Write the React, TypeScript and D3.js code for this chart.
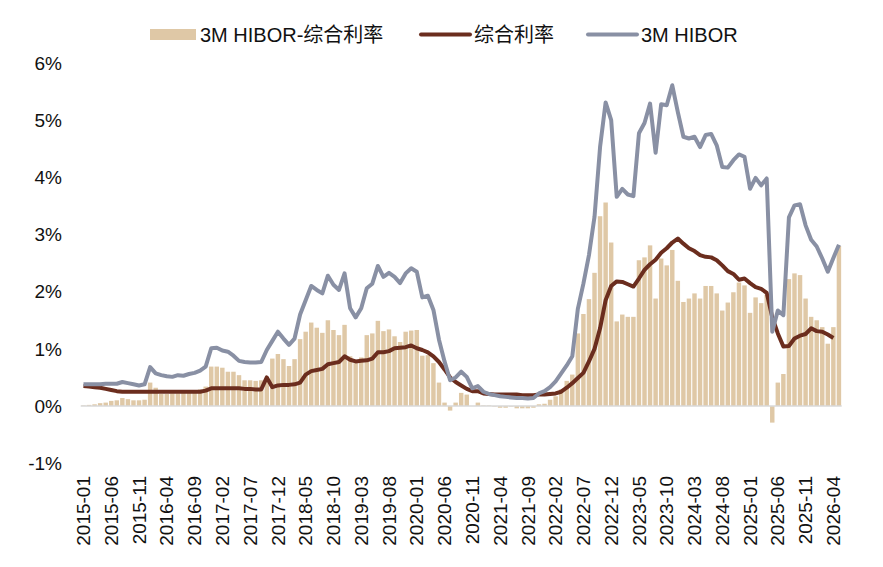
import React from "react";
import * as d3 from "d3";

const width = 883;
const height = 567;

// 月份: 2015-01 .. 2026-05
const months = d3.timeMonth.range(new Date(2015, 0, 1), new Date(2026, 5, 1));
const labels = months.map((d) => d3.timeFormat("%Y-%m")(d));

// 3M HIBOR (%)
const hibor = [
  0.38, 0.38, 0.38, 0.38, 0.39, 0.39, 0.39, 0.42, 0.40, 0.38, 0.36, 0.38,
  0.68, 0.57, 0.54, 0.52, 0.51, 0.54, 0.53, 0.56, 0.58, 0.62, 0.69, 1.01,
  1.02, 0.97, 0.95, 0.88, 0.79, 0.77, 0.76, 0.76, 0.77, 0.98, 1.14, 1.30,
  1.18, 1.07, 1.18, 1.60, 1.85, 2.10, 2.03, 1.97, 2.28, 2.12, 2.03, 2.32,
  1.71, 1.55, 1.71, 2.06, 2.14, 2.45, 2.26, 2.33, 2.26, 2.15, 2.32, 2.41,
  2.35, 1.90, 1.93, 1.68, 1.16, 0.78, 0.45, 0.50, 0.60, 0.51, 0.31, 0.35,
  0.25, 0.21, 0.19, 0.17, 0.16, 0.15, 0.14, 0.14, 0.13, 0.14, 0.22, 0.26,
  0.33, 0.43, 0.57, 0.71, 0.87, 1.70, 2.14, 2.64, 3.31, 4.53, 5.31, 5.00,
  3.66, 3.80, 3.70, 3.67, 4.77, 4.95, 5.29, 4.43, 5.28, 5.26, 5.61, 5.14,
  4.71, 4.68, 4.71, 4.53, 4.74, 4.76, 4.56, 4.18, 4.17, 4.30, 4.40, 4.36,
  3.80, 3.99, 3.86, 3.98, 1.30, 1.67, 1.59, 3.30, 3.51, 3.53, 3.16, 2.91,
  2.79, 2.58, 2.35, 2.59, 2.82,
];

// 综合利率 (%), ends 2026-04
const composite = [
  0.35, 0.34, 0.33, 0.32, 0.30, 0.28, 0.26, 0.25, 0.25, 0.25, 0.25, 0.25,
  0.25, 0.25, 0.25, 0.25, 0.25, 0.25, 0.25, 0.25, 0.25, 0.25, 0.27, 0.31,
  0.31, 0.31, 0.31, 0.31, 0.31, 0.30, 0.30, 0.29, 0.29, 0.50, 0.33, 0.36,
  0.37, 0.37, 0.38, 0.41, 0.55, 0.61, 0.63, 0.65, 0.73, 0.75, 0.77, 0.87,
  0.81, 0.78, 0.79, 0.80, 0.83, 0.94, 0.94, 0.96, 1.01, 1.02, 1.03, 1.06,
  1.01, 0.98, 0.94, 0.87, 0.77, 0.64, 0.50, 0.42, 0.36, 0.30, 0.26, 0.26,
  0.22, 0.21, 0.20, 0.20, 0.20, 0.20, 0.20, 0.19, 0.19, 0.19, 0.20, 0.20,
  0.21, 0.22, 0.25, 0.32, 0.40, 0.49, 0.58, 0.78, 1.00, 1.36, 1.85, 2.10,
  2.18, 2.17, 2.13, 2.09, 2.23, 2.38, 2.48, 2.56, 2.68, 2.76, 2.86, 2.93,
  2.84, 2.76, 2.71, 2.64, 2.61, 2.60, 2.55, 2.46, 2.36, 2.31, 2.21, 2.23,
  2.15, 2.08, 2.05, 1.98, 1.55, 1.27, 1.04, 1.05, 1.18, 1.23, 1.26, 1.36,
  1.31, 1.30, 1.25, 1.19,
];

// 3M HIBOR-综合利率 (%)
const spread = [
  0.01, 0.02, 0.03, 0.05, 0.06, 0.09, 0.10, 0.14, 0.12, 0.10, 0.10, 0.11,
  0.41, 0.32, 0.21, 0.21, 0.22, 0.22, 0.23, 0.24, 0.26, 0.29, 0.34, 0.69,
  0.69, 0.67, 0.60, 0.60, 0.54, 0.45, 0.45, 0.44, 0.45, 0.45, 0.83, 0.91,
  0.82, 0.70, 0.82, 1.17, 1.30, 1.46, 1.37, 1.28, 1.50, 1.33, 1.24, 1.42,
  0.87, 0.75, 0.85, 1.24, 1.27, 1.49, 1.31, 1.34, 1.22, 1.12, 1.30, 1.32,
  1.33, 0.88, 0.89, 0.75, 0.41, 0.06, -0.08, 0.06, 0.23, 0.20, 0.0, 0.06,
  0.01, 0.01, -0.01, -0.03, -0.03, -0.01, -0.04, -0.04, -0.04, -0.03, 0.03, 0.04,
  0.11, 0.17, 0.29, 0.44, 0.55, 1.27, 1.61, 1.87, 2.33, 3.32, 3.56, 2.86,
  1.48, 1.60, 1.56, 1.56, 2.55, 2.60, 2.81, 1.88, 2.58, 2.46, 2.73, 2.19,
  1.82, 1.88, 1.97, 1.88, 2.10, 2.10, 1.97, 1.67, 1.81, 1.99, 2.16, 2.11,
  1.63, 1.90, 1.80, 1.95, -0.29, 0.41, 0.56, 2.22, 2.32, 2.29, 1.88, 1.56,
  1.50, 1.38, 1.09, 1.38, 2.80,
];

const yTicks = [-1, 0, 1, 2, 3, 4, 5, 6];

const barColor = "#dfc8a6";
const compColor = "#6b2d1e";
const hiborColor = "#8990a4";
const latin = "'Liberation Sans', Arial, sans-serif";
const cjk = "'Liberation Sans', 'Noto Sans CJK SC', sans-serif";

const x = d3
  .scaleBand<string>()
  .domain(labels)
  .range([80.7, 841.7])
  .paddingInner(0.2)
  .paddingOuter(0.1);
const y = d3.scaleLinear().domain([-1, 6]).range([463.2, 63]);
const cx = (i: number) => (x(labels[i]) as number) + x.bandwidth() / 2;

const line = d3
  .line<number>()
  .x((_, i) => cx(i))
  .y((d) => y(d));

const App = () => {
  return (
    <div style={{ position: "absolute", left: 0, top: 0 }}>
      <svg width={width} height={height} style={{ display: "block", background: "#fff" }}>
        {/* legend */}
        <g fontFamily={cjk} fontSize={20} fill="#111">
          <rect x={150} y={29} width={46} height={11} fill={barColor} />
          <text x={200} y={42}>3M HIBOR-综合利率</text>
          <line x1={421} x2={470} y1={34.5} y2={34.5} stroke={compColor} strokeWidth={4} strokeLinecap="round" />
          <text x={474} y={42}>综合利率</text>
          <line x1={588} x2={637} y1={34.5} y2={34.5} stroke={hiborColor} strokeWidth={4} strokeLinecap="round" />
          <text x={641} y={42}>3M HIBOR</text>
        </g>

        {/* y axis labels */}
        <g fontFamily={latin} fontSize={19} fill="#111" textAnchor="end">
          {yTicks.map((t) => (
            <text key={t} x={62} y={y(t)} dy="0.35em">
              {`${t}%`}
            </text>
          ))}
        </g>

        {/* bars */}
        <g fill={barColor}>
          {spread.map((v, i) => (
            <rect
              key={i}
              x={x(labels[i])}
              width={x.bandwidth()}
              y={y(Math.max(0, v))}
              height={Math.abs(y(v) - y(0))}
            />
          ))}
        </g>

        {/* zero line */}
        <line x1={80.7} x2={841.7} y1={y(0)} y2={y(0)} stroke="#d9d9d9" strokeWidth={1.5} />

        <path d={line(composite) ?? ""} fill="none" stroke={compColor} strokeWidth={4} strokeLinejoin="round" />
        <path d={line(hibor) ?? ""} fill="none" stroke={hiborColor} strokeWidth={4} strokeLinejoin="round" />

        {/* x axis labels */}
        <g fontFamily={latin} fontSize={19} fill="#111" textAnchor="end">
          {labels.map((l, i) =>
            i % 5 === 0 ? (
              <text key={l} transform={`translate(${cx(i)},476) rotate(-90)`} dy="0.35em">
                {l}
              </text>
            ) : null
          )}
        </g>
      </svg>
    </div>
  );
};

export default App;
